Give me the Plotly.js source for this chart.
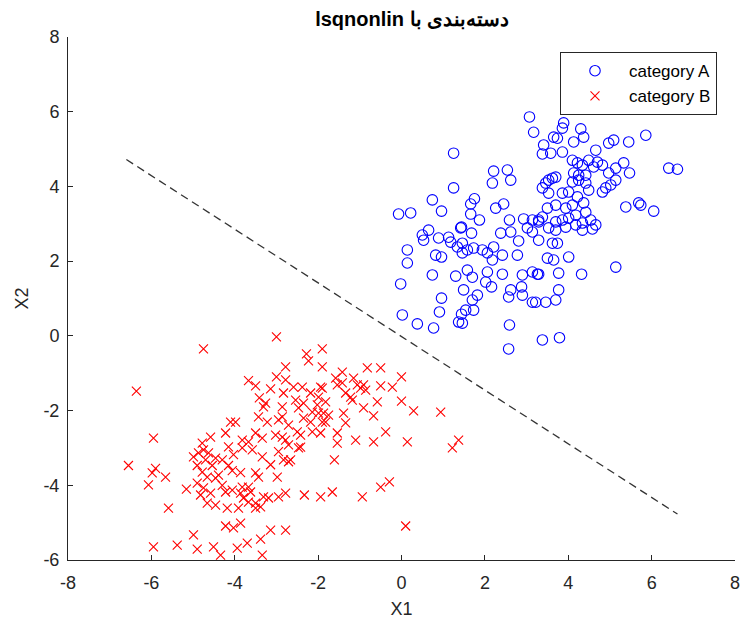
<!DOCTYPE html>
<html><head><meta charset="utf-8">
<script src="https://cdn.plot.ly/plotly-3.0.1.min.js"></script>
<style>html,body{margin:0;padding:0;background:#fff}#chart{width:742px;height:631px}</style>
</head><body><div id="chart"></div>
<script>
// category A (blue circles)
const aX=[3.07,3.17,1.25,2.21,2.54,2.18,2.62,1.25,0.74,1.75,1.66,0.96,-0.07,0.22,2.26,2.45,1.66,1.87,2.59,2.93,3.14,3.29,1.44,0.65,
3.89,3.86,4.30,4.37,3.74,3.65,4.13,5.86,5.09,4.97,5.45,3.41,3.38,3.58,3.86,4.66,4.10,4.22,4.34,4.49,4.70,4.82,4.61,5.14,5.33,5.47,4.97,4.13,4.25,4.42,6.41,6.62,3.62,3.70,3.53,3.46,3.38,4.10,4.25,4.42,5.14,5.02,4.90,4.82,4.49,3.53,3.86,4.01,4.22,4.37,5.38,5.69,5.74,6.05,3.70,3.50,3.94,4.10,4.42,4.18,4.01,3.86,3.70,3.38,3.29,4.54,4.66,4.34,4.18,
0.50,0.53,0.89,1.13,1.18,1.42,1.68,1.46,1.34,0.14,0.14,0.82,0.96,1.46,1.58,1.73,1.94,2.06,2.21,2.38,2.62,2.81,3.02,3.14,2.42,2.78,2.18,0.74,1.30,1.58,1.70,2.06,2.02,2.16,2.42,2.90,3.14,3.26,-0.02,1.49,1.82,1.70,2.62,2.57,2.88,2.90,3.14,0.96,0.91,1.54,1.73,1.44,1.37,1.46,0.02,0.38,0.77,2.59,2.57,3.38,
3.53,3.70,3.94,4.34,4.58,3.29,3.62,3.74,3.50,3.65,4.01,5.14,3.29,3.77,4.32,3.77,3.70,3.46,3.22,3.79];
const aY=[5.86,5.45,4.89,4.41,4.44,4.09,4.17,3.96,3.64,3.67,3.53,3.34,3.26,3.29,3.42,3.53,3.26,3.10,3.10,3.13,3.10,3.10,2.91,2.83,
5.70,5.56,5.54,5.32,5.29,5.32,5.19,5.37,5.24,5.16,5.19,5.11,4.87,4.89,4.92,4.97,4.70,4.63,4.57,4.70,4.65,4.57,4.52,4.49,4.63,4.36,4.36,4.36,4.30,4.30,4.49,4.46,4.22,4.25,4.17,4.09,3.96,4.12,4.17,4.09,4.17,4.04,3.96,3.85,3.90,3.82,3.82,3.85,3.72,3.56,3.45,3.56,3.50,3.34,3.50,3.42,3.42,3.50,3.31,3.23,3.15,3.10,3.05,3.18,3.05,3.10,2.97,3.02,2.97,
2.70,2.56,2.62,2.64,2.51,2.89,2.75,2.48,2.38,2.30,1.95,2.16,2.11,2.22,2.30,2.35,2.30,2.22,2.38,2.75,2.78,2.54,2.89,2.78,2.16,2.16,2.03,1.63,1.60,1.76,1.57,1.71,1.44,1.31,1.65,1.63,1.71,1.65,1.39,1.23,1.09,0.96,1.23,1.04,1.31,1.09,0.90,1.01,0.64,0.69,0.69,0.58,0.37,0.34,0.56,0.32,0.21,0.29,-0.35,-0.11,
2.89,2.83,2.91,2.83,2.86,2.56,2.48,2.48,2.08,2.03,2.11,1.84,1.65,1.68,1.65,1.23,0.96,0.90,0.90,-0.05];
// category B (red crosses)
const bX=[-3.00,-4.75,-6.36,-2.78,-3.67,-3.50,-3.00,-3.14,-2.83,-3.41,-3.26,-3.31,-2.86,-3.43,-3.22,-2.95,-2.86,-4.10,-3.98,-4.22,-5.95,-4.58,-4.78,-3.50,-3.34,-3.02,-2.86,-2.78,-3.82,-3.67,
-1.90,-2.28,-2.23,-1.90,-0.82,-0.50,-1.42,-1.58,-1.54,-1.42,-1.15,-1.06,-0.91,-0.86,-0.98,-0.50,-0.22,0.00,-2.78,-2.59,-2.38,-1.94,-1.90,-1.34,-1.22,-1.18,-2.18,-1.99,-1.82,-2.02,-2.54,-2.35,-2.47,-0.58,-0.91,0.00,0.29,0.94,-0.67,-1.39,-1.34,-2.14,-1.99,-1.87,-1.75,-1.90,-1.82,-2.18,-2.35,-2.71,-2.50,-2.42,-2.14,-1.94,-1.54,-0.38,-1.10,-0.67,0.14,1.37,
-6.55,-5.90,-5.98,-6.07,-5.66,-5.16,-5.59,-4.99,-5.95,-5.38,-4.90,-4.51,-4.34,-3.94,-3.70,-3.34,-3.38,-4.22,-4.03,-3.86,-3.14,-2.78,-4.99,-4.87,-4.75,-4.63,-4.46,-4.30,-4.15,-4.03,-3.82,-3.58,-3.34,-3.14,-2.95,-2.83,-2.71,-4.90,-4.70,-4.54,-4.78,-4.66,-4.39,-4.46,-4.15,-4.06,-3.86,-3.50,-3.43,-2.98,-4.90,-4.75,-4.82,-4.58,-4.30,-4.22,-4.06,-3.82,-3.67,-3.62,-3.86,-3.79,-3.67,-3.50,-3.31,-3.19,-2.95,-2.78,-4.66,-4.46,-4.18,-3.91,-3.50,-3.38,
-2.71,-2.42,-2.47,-2.66,-1.54,1.22,-1.61,-2.33,-1.94,-1.66,-0.94,-0.50,-0.29,0.10];
const bY=[-0.03,-0.35,-1.48,-0.83,-1.20,-1.34,-1.10,-1.42,-1.53,-1.66,-1.80,-1.90,-1.90,-2.17,-2.31,-2.25,-2.17,-2.31,-2.31,-2.60,-2.74,-2.71,-2.87,-2.60,-2.74,-2.66,-2.71,-2.79,-2.79,-2.84,
-0.35,-0.48,-0.67,-0.83,-0.86,-0.86,-0.97,-1.13,-1.31,-1.26,-1.13,-1.31,-1.31,-1.45,-1.40,-1.34,-1.37,-1.10,-1.18,-1.37,-1.37,-1.37,-1.40,-1.53,-1.64,-1.72,-1.53,-1.64,-1.77,-1.85,-1.72,-1.80,-1.93,-1.77,-1.93,-1.75,-2.01,-2.04,-2.14,-2.07,-2.33,-2.04,-2.07,-2.07,-2.12,-2.31,-2.31,-2.31,-2.20,-2.39,-2.57,-2.66,-2.57,-2.60,-2.60,-2.57,-2.79,-2.84,-2.84,-2.79,
-3.47,-3.55,-3.67,-3.99,-3.78,-4.10,-4.61,-5.33,-5.65,-5.60,-5.71,-5.65,-5.87,-5.68,-5.55,-5.87,-5.44,-5.09,-5.14,-5.01,-5.20,-5.20,-3.24,-3.13,-3.05,-3.13,-3.27,-3.32,-2.97,-3.18,-3.00,-3.05,-3.24,-3.45,-3.10,-3.32,-3.37,-3.47,-3.32,-3.47,-3.65,-3.78,-3.73,-3.81,-3.47,-3.61,-3.66,-3.67,-3.78,-3.78,-3.94,-4.07,-4.26,-4.21,-4.00,-4.18,-4.13,-4.05,-4.05,-4.18,-4.21,-4.34,-4.45,-4.48,-4.31,-4.34,-4.31,-4.21,-4.48,-4.53,-4.61,-4.61,-4.61,-4.58,
-2.92,-2.98,-3.00,-3.32,-2.87,-3.00,-3.32,-4.26,-4.31,-4.18,-4.31,-4.05,-3.91,-5.09];
// decision boundary (dashed)
const lineX=[-6.6,6.62];
const lineY=[4.72,-4.77];
// ticks
const xTicks=[-8,-6,-4,-2,0,2,4,6,8];
const xTickText=['-8','-6','-4','-2','0','2','4','6','8'];
const yTicks=[-6,-4,-2,0,2,4,6,8];
const yTickText=['-6','-4','-2','0','2','4','6','8'];

const axCol='#262626';
const font='"Liberation Sans", Arial, Helvetica, sans-serif';
const traces=[
 {x:lineX,y:lineY,type:'scatter',mode:'lines',line:{color:'#333333',width:1.3,dash:'8px,5px'},showlegend:false,hoverinfo:'skip'},
 {x:aX,y:aY,type:'scatter',mode:'markers',name:'category A',marker:{symbol:'circle-open',size:10.5,color:'#0000ff',line:{width:1.1,color:'#0000ff'}}},
 {x:bX,y:bY,type:'scatter',mode:'markers',name:'category B',marker:{symbol:'x-thin-open',size:9,color:'#ff0000',line:{width:1.1,color:'#ff0000'}}}
];
const axBase={showgrid:false,zeroline:false,showline:true,linecolor:axCol,linewidth:1,ticks:'inside',ticklen:5,tickcolor:axCol,tickwidth:1,mirror:false,tickfont:{family:font,size:18,color:axCol}};
const layout={
 width:742,height:631,paper_bgcolor:'#fff',plot_bgcolor:'#fff',
 margin:{l:68,r:7,t:37,b:71},
 font:{family:font,color:axCol},
 title:{text:'\u202Bدسته\u200Cبندی با lsqnonlin\u202C',font:{family:font,size:20,weight:'bold',color:'#000'},x:0.516,xref:'paper',xanchor:'center',y:1-19/631,yref:'container',yanchor:'middle'},
 xaxis:Object.assign({},axBase,{range:[-8,8],tickvals:xTicks,ticktext:xTickText,ticklabelstandoff:6,title:{text:'X1',font:{family:font,size:18,color:axCol},standoff:10}}),
 yaxis:Object.assign({},axBase,{range:[-6,8],tickvals:yTicks,ticktext:yTickText,ticklabelstandoff:4,title:{text:'X2',font:{family:font,size:18,color:axCol},standoff:10}}),
 legend:{x:0.973,xanchor:'right',y:0.971,yanchor:'top',bgcolor:'#fff',bordercolor:axCol,borderwidth:1,itemwidth:58,font:{family:font,size:17,color:'#000'},tracegroupgap:0},
 showlegend:true
};
Plotly.newPlot('chart',traces,layout,{displayModeBar:false,staticPlot:true});
</script></body></html>
